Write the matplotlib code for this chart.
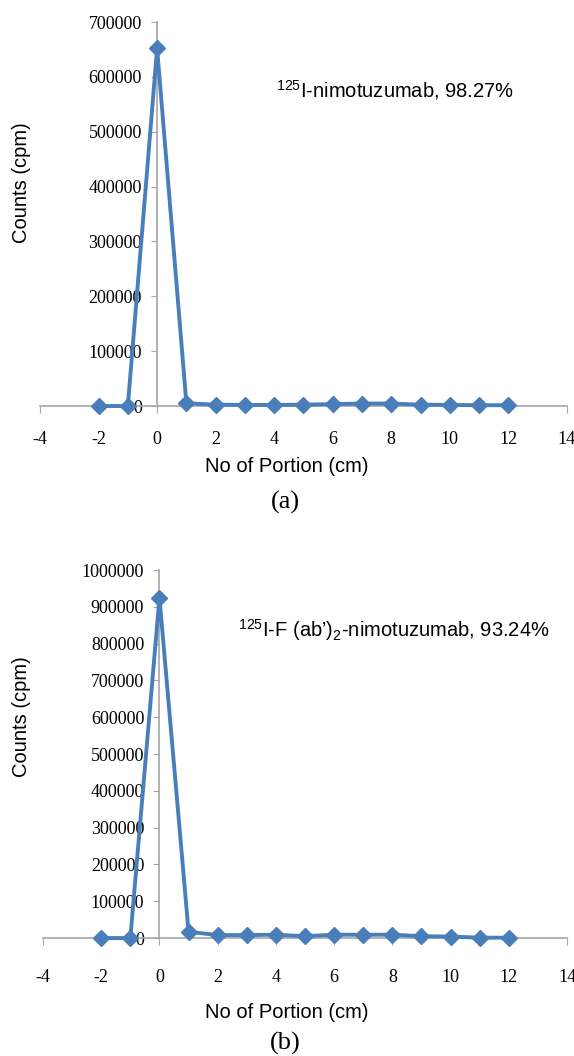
import numpy as np
import matplotlib.pyplot as plt

# data
portion = [-2, -1, 0, 1, 2, 3, 4, 5, 6, 7, 8, 9, 10, 11, 12]
counts_a = [0, 0, 652000, 5000, 2500, 2000, 2000, 2500, 3500, 4500, 4500, 2500, 2000, 1500, 1500]
counts_b = [0, 0, 925000, 17000, 8000, 8000, 9000, 5000, 9000, 9000, 9000, 5000, 4000, 1000, 1000]

yticks_a = [0, 100000, 200000, 300000, 400000, 500000, 600000, 700000]
yticks_b = [0, 100000, 200000, 300000, 400000, 500000, 600000, 700000, 800000, 900000, 1000000]
xticks = [-4, -2, 0, 2, 4, 6, 8, 10, 12, 14]

blue = '#4a7ebb'
grey = '#a6a6a6'
serif = 'Liberation Serif'
sans = 'Liberation Sans'

plt.rcParams['mathtext.fontset'] = 'custom'
plt.rcParams['mathtext.rm'] = sans
plt.rcParams['mathtext.it'] = sans

fig = plt.figure(figsize=(5.74, 10.56), dpi=100)


def panel(rect, y, yticks, ymax, xpad):
    ax = fig.add_axes(rect)
    ax.plot(portion, y, color=blue, lw=2.8, marker='D', ms=8.5, mec=blue, mfc=blue, clip_on=False, zorder=3)
    ax.set_xlim(-4, 14)
    ax.set_ylim(0, ymax)
    ax.spines['left'].set_position(('data', 0))
    ax.spines['top'].set_visible(False)
    ax.spines['right'].set_visible(False)
    for s in ['left', 'bottom']:
        ax.spines[s].set_color(grey)
        ax.spines[s].set_linewidth(1.2)
    ax.set_xticks(xticks)
    ax.set_xticklabels([str(t) for t in xticks], family=serif, fontsize=13)
    ax.set_yticks(yticks)
    ax.set_yticklabels([str(t) for t in yticks], family=serif, fontsize=13)
    ax.tick_params(axis='x', direction='out', length=5, color=grey, pad=xpad)
    ax.tick_params(axis='y', direction='out', length=4, color=grey, pad=7)
    ax.patch.set_visible(False)
    return ax


ax1 = panel([0.0697, 0.6155, 0.918, 0.3636], counts_a, yticks_a, 700000, 13)
ax2 = panel([0.0749, 0.1117, 0.913, 0.3485], counts_b, yticks_b, 1000000, 17)

fig.text(22 / 574, 1 - 183 / 1056, 'Counts (cpm)', rotation=90, ha='center', va='center', family=sans, fontsize=14.5)
fig.text(22 / 574, 1 - 717 / 1056, 'Counts (cpm)', rotation=90, ha='center', va='center', family=sans, fontsize=14.5)

fig.text(276 / 574, 1 - 90 / 1056, r'$^{125}$I-nimotuzumab, 98.27%', family=sans, fontsize=14.5, va='center')
fig.text(238 / 574, 1 - 630 / 1056, "$^{125}$I-F (ab\u2019)$_{2}$-nimotuzumab, 93.24%", family=sans, fontsize=14.5, va='center')

fig.text(287 / 574, 1 - 467 / 1056, 'No of Portion (cm)', ha='center', va='center', family=sans, fontsize=14.5)
fig.text(285 / 574, 1 - 502 / 1056, '(a)', ha='center', va='center', family=serif, fontsize=19)
fig.text(287 / 574, 1 - 1013 / 1056, 'No of Portion (cm)', ha='center', va='center', family=sans, fontsize=14.5)
fig.text(285 / 574, 1 - 1043 / 1056, '(b)', ha='center', va='center', family=serif, fontsize=19)

fig.savefig('out.png', dpi=100)
